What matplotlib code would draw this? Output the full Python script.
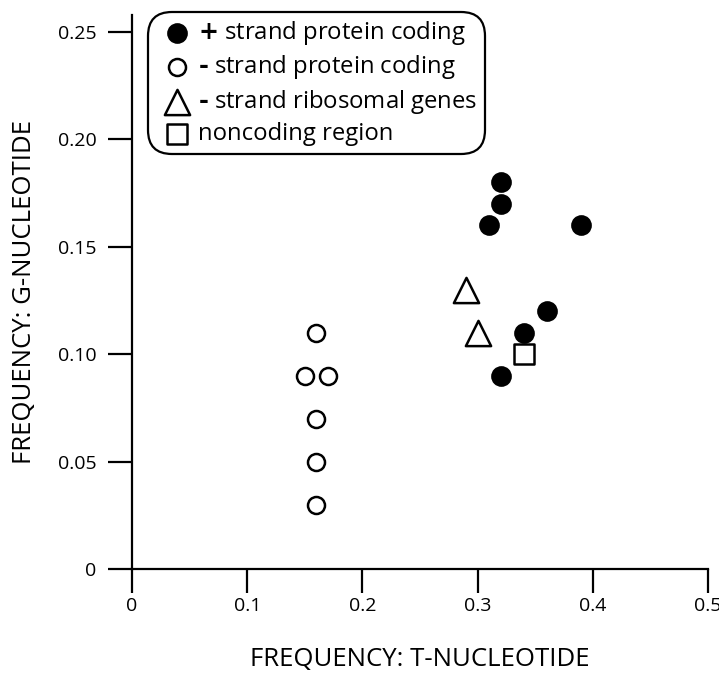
import matplotlib

matplotlib.use("Agg")

import matplotlib.pyplot as plt

plt.rcParams["font.family"] = ["Open Sans", "DejaVu Sans"]
plt.rcParams["mathtext.fontset"] = "custom"
plt.rcParams["mathtext.bf"] = "DejaVu Sans:bold"
plt.rcParams["mathtext.rm"] = "Open Sans"

# ── Data ──────────────────────────────────────────────────
plus_coding_t = [0.32, 0.32, 0.31, 0.39, 0.36, 0.34, 0.32]
plus_coding_g = [0.18, 0.17, 0.16, 0.16, 0.12, 0.11, 0.09]

minus_coding_t = [0.16, 0.15, 0.17, 0.16, 0.16, 0.16]
minus_coding_g = [0.11, 0.09, 0.09, 0.07, 0.05, 0.03]

ribosomal_t = [0.29, 0.30]
ribosomal_g = [0.13, 0.11]

noncoding_t = [0.34]
noncoding_g = [0.10]

x_ticks = [0, 0.1, 0.2, 0.3, 0.4, 0.5]
x_tick_labels = ["0", "0.1", "0.2", "0.3", "0.4", "0.5"]
y_ticks = [0, 0.05, 0.10, 0.15, 0.20, 0.25]
y_tick_labels = ["0", "0.05", "0.10", "0.15", "0.20", "0.25"]

legend_labels = [
    r"$\mathbf{+}$ strand protein coding",
    "$\\mathbf{\u2010}$ strand protein coding",
    "$\\mathbf{\u2010}$ strand ribosomal genes",
    "noncoding region",
]

# ── Figure ────────────────────────────────────────────────
fig = plt.figure(figsize=(7.19, 6.75), dpi=100)
ax = fig.add_axes([0.1836, 0.157, 0.801, 0.821])

ax.scatter(plus_coding_t, plus_coding_g, s=180, marker="o", facecolor="black",
           edgecolor="black", linewidth=1.5, label=legend_labels[0],
           clip_on=False, zorder=3)
ax.scatter(minus_coding_t, minus_coding_g, s=150, marker="o", facecolor="white",
           edgecolor="black", linewidth=1.8, label=legend_labels[1],
           clip_on=False, zorder=3)
ax.scatter(ribosomal_t, ribosomal_g, s=330, marker="^", facecolor="white",
           edgecolor="black", linewidth=1.8, label=legend_labels[2],
           clip_on=False, zorder=3)
ax.scatter(noncoding_t, noncoding_g, s=190, marker="s", facecolor="white",
           edgecolor="black", linewidth=1.8, label=legend_labels[3],
           clip_on=False, zorder=3)

ax.set_xlim(0, 0.5)
ax.set_ylim(0, 0.258)
ax.set_xticks(x_ticks)
ax.set_xticklabels(x_tick_labels)
ax.set_yticks(y_ticks)
ax.set_yticklabels(y_tick_labels)

for side in ["top", "right"]:
    ax.spines[side].set_visible(False)
for side in ["left", "bottom"]:
    ax.spines[side].set_linewidth(1.6)

ax.tick_params(direction="out", length=17.5, width=1.6, labelsize=14)
ax.tick_params(axis="x", pad=3)
ax.tick_params(axis="y", pad=8)

ax.set_xlabel("FREQUENCY: T-NUCLEOTIDE", fontsize=18.5)
ax.set_ylabel("FREQUENCY: G-NUCLEOTIDE", fontsize=18.5)
ax.xaxis.set_label_coords(0.5, -0.141)
ax.yaxis.set_label_coords(-0.165, 0.5)

leg = ax.legend(loc="upper left", bbox_to_anchor=(0.028, 1.0054), fontsize=17.2,
                frameon=True, fancybox=True, handletextpad=0.0, borderpad=0.3,
                labelspacing=0.27, handlelength=1.8, scatterpoints=1,
                markerscale=1.0, borderaxespad=0)
frame = leg.get_frame()
frame.set_edgecolor("black")
frame.set_linewidth(1.6)
frame.set_alpha(1)
frame.set_boxstyle("round,pad=0,rounding_size=1.0")

fig.savefig("out.png", dpi=100)
plt.close(fig)
